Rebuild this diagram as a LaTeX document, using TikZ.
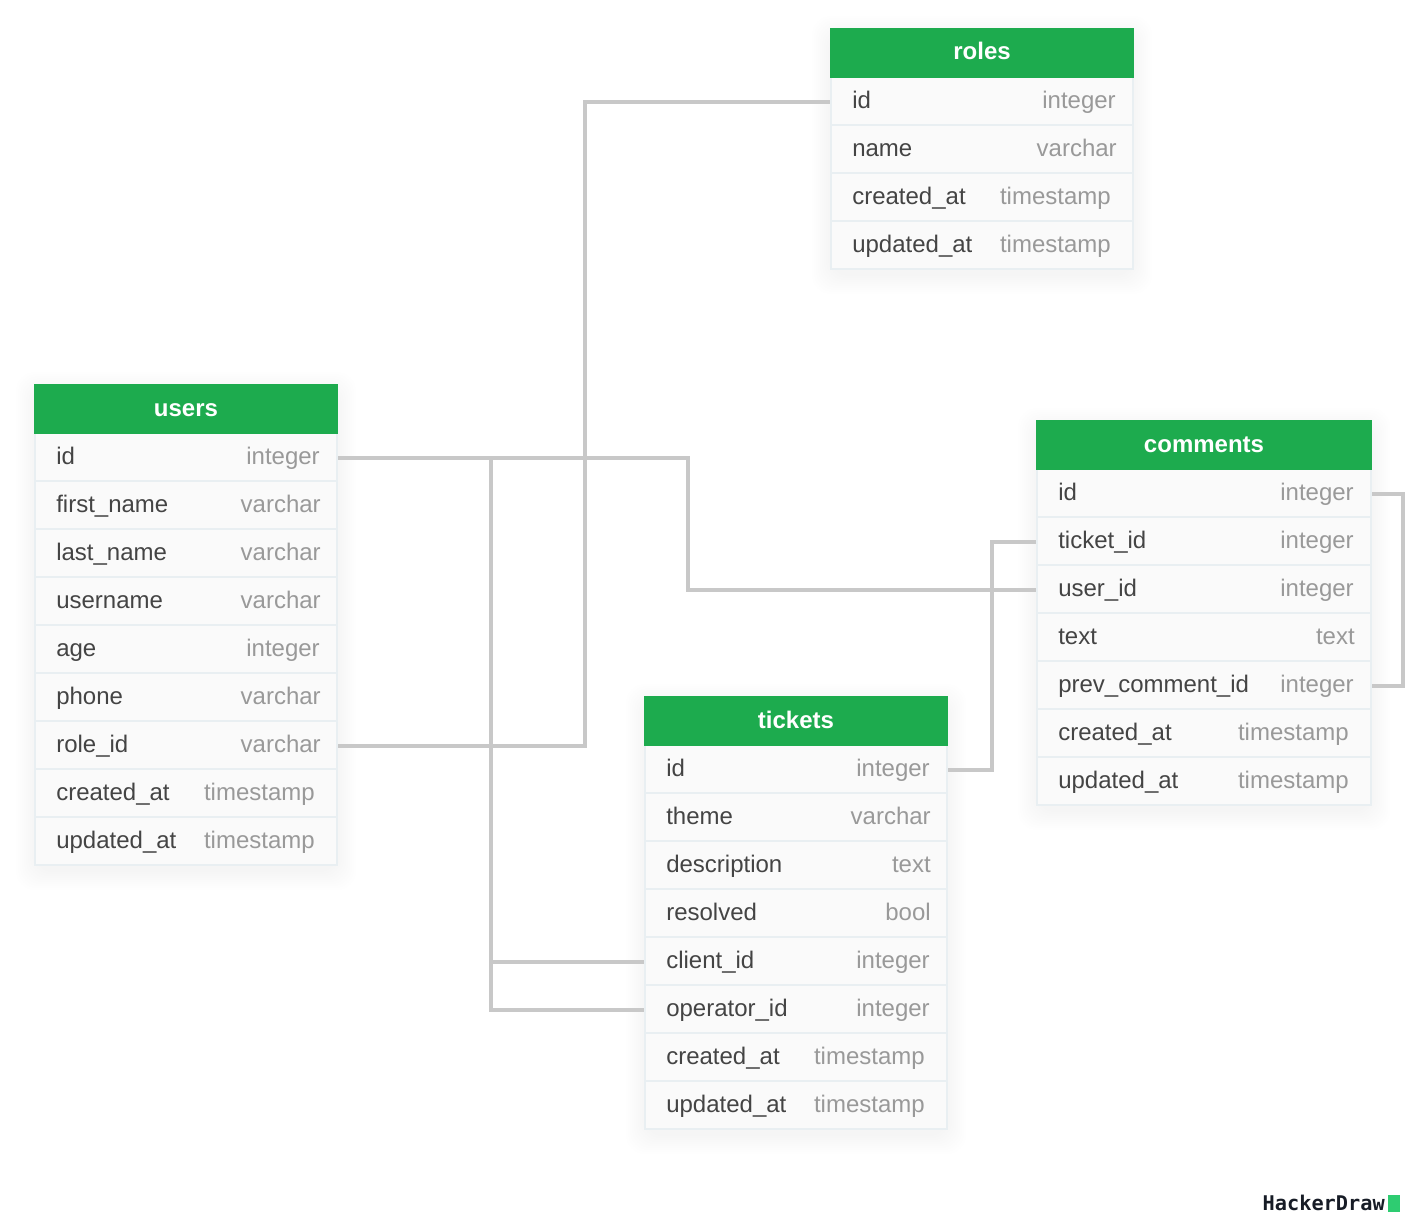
\documentclass[tikz,border=0pt]{standalone}
\usepackage{fontspec}
\setmainfont{Liberation Sans}
\newfontfamily\logofont{DejaVu Sans Mono}
\definecolor{headgreen}{HTML}{1DAB4E}
\definecolor{rowfill}{HTML}{FAFAFA}
\definecolor{rowline}{HTML}{E9EFF2}
\definecolor{namegray}{HTML}{444444}
\definecolor{typegray}{HTML}{999999}
\definecolor{linkgray}{HTML}{C8C8C8}
\definecolor{logoink}{HTML}{171C26}
\definecolor{logogreen}{HTML}{2ECC71}

\begin{document}
\begin{tikzpicture}[x=0.75pt, y=-0.75pt,
    head/.style={fill=headgreen, text=white, font=\fontsize{18}{20}\selectfont\bfseries, text height=12pt, text depth=1.5pt, minimum height=37.5pt, inner sep=0pt, outer sep=0pt},
    row/.style={draw=rowline, fill=rowfill, line width=1.5pt, minimum height=36pt, inner sep=0pt, outer sep=0.75pt},
    colname/.style={anchor=base west, text=namegray, font=\fontsize{18}{20}\selectfont, inner sep=0pt},
    coltype/.style={anchor=base east, text=typegray, font=\fontsize{18}{20}\selectfont, inner sep=0pt},
    link/.style={draw=linkgray, line width=3pt, transform canvas={yshift=-0.75pt}},
    halo/.style={fill=black, opacity=0.0045, rounded corners=14pt}]
  \useasboundingbox (0,0) rectangle (1414,1220);

  % 阴影
  \foreach \xa/\ya/\xb/\yb in {830/28/1134/270, 34/384/338/866, 1036/420/1372/806, 644/696/948/1130} {
    \foreach \s in {0,2,...,18} {
      \fill[halo] (\xa-\s,\ya-\s+6) rectangle (\xb+\s,\yb+\s+6);
    }
  }

  % 表 roles
  \foreach \key/\nm/\ty/\dx [count=\i from 0] in {id/id/integer/18, name/name/varchar/17,
      created/created\_at/timestamp/23, updated/updated\_at/timestamp/23} {
    \node[row, minimum width=226.5pt] (roles-\key) at (982,{101+48*\i}) {};
    \node[colname] (roles-\key-name) at (852,{108.4+48*\i}) {\nm};
    \node[coltype] (roles-\key-type) at ({1134-\dx},{108.4+48*\i}) {\ty};
  }
  \node[head, minimum width=228pt] (roles) at (982,53) {roles};

  % 表 users
  \foreach \key/\nm/\ty/\dx [count=\i from 0] in {id/id/integer/18, first/first\_name/varchar/17,
      last/last\_name/varchar/17, username/username/varchar/17, age/age/integer/18, phone/phone/varchar/17,
      role/role\_id/varchar/17, created/created\_at/timestamp/23, updated/updated\_at/timestamp/23} {
    \node[row, minimum width=226.5pt] (users-\key) at (186,{457+48*\i}) {};
    \node[colname] (users-\key-name) at (56,{464+48*\i}) {\nm};
    \node[coltype] (users-\key-type) at ({338-\dx},{464+48*\i}) {\ty};
  }
  \node[head, minimum width=228pt] (users) at (186,409) {users};

  % 表 comments
  \foreach \key/\nm/\ty/\dx [count=\i from 0] in {id/id/integer/18, ticket/ticket\_id/integer/18,
      user/user\_id/integer/18, text/text/text/17, prev/prev\_comment\_id/integer/18,
      created/created\_at/timestamp/23, updated/updated\_at/timestamp/23} {
    \node[row, minimum width=250.5pt] (comments-\key) at (1204,{493+48*\i}) {};
    \node[colname] (comments-\key-name) at (1058,{500+48*\i}) {\nm};
    \node[coltype] (comments-\key-type) at ({1372-\dx},{500+48*\i}) {\ty};
  }
  \node[head, minimum width=252pt] (comments) at (1204,445) {comments};

  % 表 tickets
  \foreach \key/\nm/\ty/\dx [count=\i from 0] in {id/id/integer/18, theme/theme/varchar/17,
      description/description/text/17, resolved/resolved/bool/17, client/client\_id/integer/18,
      operator/operator\_id/integer/18, created/created\_at/timestamp/23, updated/updated\_at/timestamp/23} {
    \node[row, minimum width=226.5pt] (tickets-\key) at (796,{769+48*\i}) {};
    \node[colname] (tickets-\key-name) at (666,{776+48*\i}) {\nm};
    \node[coltype] (tickets-\key-type) at ({948-\dx},{776+48*\i}) {\ty};
  }
  \node[head, minimum width=228pt] (tickets) at (796,721) {tickets};

  % 折点
  \coordinate (bend-user) at (687.5,520);
  \coordinate (bend-client) at (491,700);
  \coordinate (bend-role) at (584.5,400);
  \coordinate (bend-ticket) at (992,650);
  \coordinate (bend-self) at (1402.5,590);

  % 连线
  \draw[link] (users-id.east) -| (bend-user) |- (comments-user.west);
  \draw[link] (users-id.east) -| (bend-client) |- (tickets-client.west);
  \draw[link] (users-id.east) -| (bend-client) |- (tickets-operator.west);
  \draw[link] (users-role.east) -| (bend-role) |- (roles-id.west);
  \draw[link] (tickets-id.east) -| (bend-ticket) |- (comments-ticket.west);
  \draw[link] (comments-id.east) -| (bend-self) |- (comments-prev.east);

  % 标志
  \node[anchor=base east, inner sep=0pt, text=logoink, font=\logofont\fontsize{15.2}{16}\selectfont\bfseries] (logo) at (1385,1210) {HackerDraw};
  \node[fill=logogreen, anchor=west, inner sep=0pt, minimum width=9pt, minimum height=12.75pt] (logomark) at (1388,1203.5) {};
\end{tikzpicture}
\end{document}
